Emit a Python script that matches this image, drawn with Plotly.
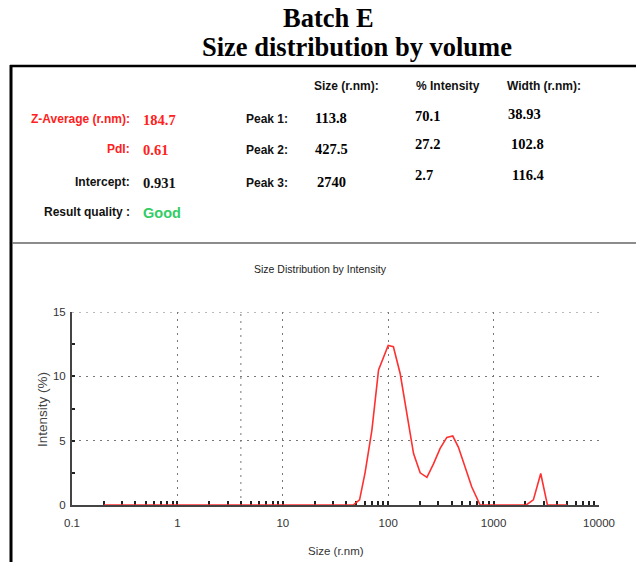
import math
import plotly.graph_objects as go

# ---- data ----
sizes = [0.2, 46.5, 53.5, 60.3, 70, 81, 100, 112, 130, 150, 174, 201, 233, 269,
         311, 360, 410, 463, 537, 621, 745, 2040, 2384, 2800, 3240, 5000]
intensity = [0, 0, 0.4, 2.5, 5.8, 10.5, 12.4, 12.3, 10.2, 7.1, 4.0, 2.5, 2.15, 3.2,
             4.4, 5.25, 5.36, 4.5, 3.0, 1.4, 0, 0, 0.4, 2.45, 0, 0]

x_tickvals = [0.1, 1, 10, 100, 1000, 10000]
x_ticktext = ["0.1", "1", "10", "100", "1000", "10000"]
y_tickvals = [0, 5, 10, 15]

header_cols = ["Size (r.nm):", "% Intensity", "Width (r.nm):"]
peak_labels = ["Peak 1:", "Peak 2:", "Peak 3:"]
peak_sizes = ["113.8", "427.5", "2740"]
peak_intensity = ["70.1", "27.2", "2.7"]
peak_width = ["38.93", "102.8", "116.4"]
summary_labels = ["Z-Average (r.nm):", "PdI:", "Intercept:", "Result quality :"]
summary_values = ["184.7", "0.61", "0.931", "Good"]

# ---- geometry ----
W, H = 636, 562
ML, MR, MT, MB = 72, 37, 312, 57
PW = W - ML - MR
PH = H - MT - MB


def px(x):
    return (x - ML) / PW


def py(y):
    return (H - MB - y) / PH


SANS = "Liberation Sans, Arial, sans-serif"
SERIF = "Liberation Serif, Times New Roman, serif"

fig = go.Figure()
fig.add_trace(go.Scatter(x=sizes, y=intensity, mode="lines",
                         line=dict(color="#ff3030", width=1.6),
                         hoverinfo="skip", showlegend=False, cliponaxis=False))

ann = []


def text(x, y, s, size=13, color="black", font=SANS, xanchor="left", bold=False):
    ann.append(dict(x=px(x), y=py(y), xref="paper", yref="paper", text=(f"<b>{s}</b>" if bold else s),
                    showarrow=False, xanchor=xanchor, yanchor="middle",
                    font=dict(family=font, size=size, color=color)))


# titles
text(328, 18, "Batch E", size=26.5, font=SERIF, xanchor="center", bold=True)
text(357, 47, "Size distribution by volume", size=26.5, font=SERIF, xanchor="center", bold=True)

# header table
for x0, s in zip([312, 414, 505], header_cols):
    text(x0, 86, s, size=12, bold=True, color="#111")

rows_y = [119, 149, 182, 212]
colors_lab = ["#ff2020", "#ff2020", "#111", "#111"]
colors_val = ["#ff2020", "#ff2020", "#111", "#33cc66"]
for i, (lab, val) in enumerate(zip(summary_labels, summary_values)):
    text(132, rows_y[i], lab, size=12, color=colors_lab[i], xanchor="right", bold=True)
    text(141, rows_y[i] + 1, val, size=14.5, color=colors_val[i],
         font=(SANS if i == 3 else SERIF), bold=True)

for i in range(3):
    text(244, [119, 150, 183][i], peak_labels[i], size=12, bold=True, color="#111")
    text(313 if i < 2 else 315, [118, 149, 182][i], peak_sizes[i], size=14.5, font=SERIF, bold=True)
    text(413, [116, 144, 175][i], peak_intensity[i], size=14.5, font=SERIF, bold=True)
    text([506, 509, 510][i], [114, 144, 175][i], peak_width[i], size=14.5, font=SERIF, bold=True)

# chart labels
text(320, 269, "Size Distribution by Intensity", size=10.5, xanchor="center", color="#222")
ann.append(dict(x=px(42), y=py(410), xref="paper", yref="paper", text="Intensity (%)",
                showarrow=False, textangle=-90, xanchor="center", yanchor="middle",
                font=dict(family=SANS, size=13.5, color="#444")))
text(336, 551, "Size (r.nm)", size=11.5, xanchor="center", color="#333")

grid_line = dict(color="#777", width=1, dash="2px,5px")
shapes = [
    dict(type="line", xref="paper", yref="paper", x0=px(10), x1=px(636), y0=py(66), y1=py(66),
         line=dict(color="black", width=2.5)),
    dict(type="line", xref="paper", yref="paper", x0=px(11), x1=px(11), y0=py(65), y1=py(562),
         line=dict(color="black", width=3)),
    dict(type="line", xref="paper", yref="paper", x0=px(12), x1=px(636), y0=py(243), y1=py(243),
         line=dict(color="#666", width=1.5)),
    # edge gridlines (at the last tick values) that plotly omits at the plot border
    dict(type="line", xref="x", yref="paper", x0=math.log10(x_tickvals[-1]), x1=math.log10(x_tickvals[-1]),
         y0=0, y1=1, line=grid_line, layer="below"),
    dict(type="line", xref="paper", yref="y", x0=0, x1=1, y0=y_tickvals[-1], y1=y_tickvals[-1],
         line=grid_line, layer="below"),
]

axis_font = dict(family=SANS, size=11.5, color="#333")
fig.update_layout(
    width=W, height=H, margin=dict(l=ML, r=MR, t=MT, b=MB, pad=0),
    paper_bgcolor="white", plot_bgcolor="white",
    annotations=ann, shapes=shapes, showlegend=False,
    xaxis=dict(type="log", range=[-1, 4], tickvals=x_tickvals, ticktext=x_ticktext,
               showgrid=True, gridcolor="#777", griddash="2px,5px", gridwidth=1,
               showline=True, linecolor="#444", linewidth=2, zeroline=False, layer="below traces",
               ticks="inside", ticklen=4, tickwidth=2, tickcolor="#222",
               minor=dict(dtick="D1", ticks="inside", ticklen=4, tickwidth=2, tickcolor="#222", showgrid=False),
               tickfont=axis_font, ticklabelstandoff=6),
    yaxis=dict(range=[0, 15], tickvals=y_tickvals,
               showgrid=True, gridcolor="#777", griddash="2px,5px", gridwidth=1,
               showline=True, linecolor="#444", linewidth=2, zeroline=False, layer="below traces",
               ticks="inside", ticklen=3, tickwidth=2, tickcolor="#222",
               minor=dict(dtick=2.5, ticks="inside", ticklen=3, tickwidth=2, tickcolor="#222", showgrid=False),
               tickfont=axis_font, ticklabelstandoff=2),
)

fig.write_html("out.html", config={"displayModeBar": False},
               post_script="document.body.style.margin='0px';")
